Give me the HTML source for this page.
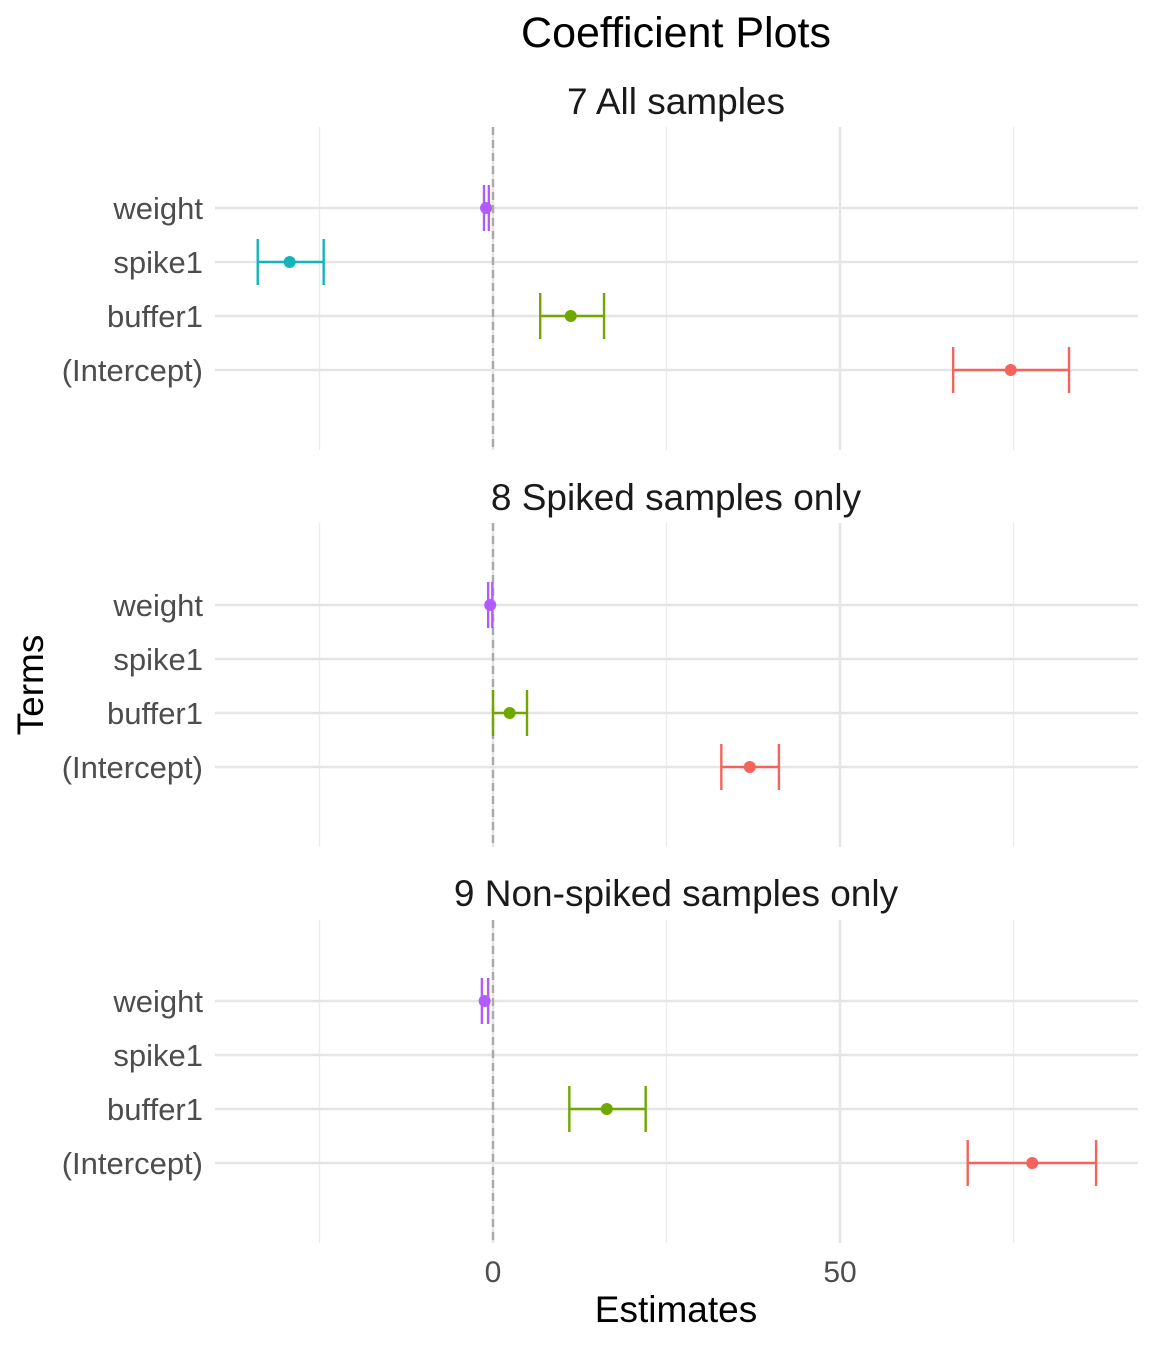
<!DOCTYPE html>
<html><head><meta charset="utf-8">
<style>
html,body{margin:0;padding:0;background:#fff;}
svg text{font-family:"Liberation Sans",Arial,sans-serif;}
</style></head>
<body>
<svg id="chart" width="1152" height="1344" xmlns="http://www.w3.org/2000/svg"></svg>
<script>
const terms = ["(Intercept)","buffer1","spike1","weight"];
const panelTitles = ["7 All samples","8 Spiked samples only","9 Non-spiked samples only"];
const colors = ["#F5645C","#6FA800","#13B5BA","#B15BFF"];
const est1 = [74.6, 11.2, -29.3, -1.0];
const lo1  = [66.3, 6.8, -33.9, -1.3];
const hi1  = [83.0, 16.0, -24.4, -0.6];
const est2 = [37.0, 2.4, null, -0.4];
const lo2  = [32.9, 0.0, null, -0.7];
const hi2  = [41.2, 4.9, null, -0.1];
const est3 = [77.7, 16.4, null, -1.2];
const lo3  = [68.4, 11.0, null, -1.6];
const hi3  = [86.9, 22.0, null, -0.7];
const xTicks = [0, 50];
const xMinor = [-25, 25, 75];

const svg = document.getElementById('chart');
const NS = "http://www.w3.org/2000/svg";
function el(tag, attrs, parent){const e=document.createElementNS(NS,tag);for(const k in attrs)e.setAttribute(k,attrs[k]);(parent||svg).appendChild(e);return e;}
const X = v => 493 + v*6.94;
const plotL = 215, plotR = 1138;
const panels = [
  {top:127,bot:450,rows:[370,316,262,208],titleY:114,est:est1,lo:lo1,hi:hi1},
  {top:523,bot:847,rows:[767,713,659,605],titleY:510,est:est2,lo:lo2,hi:hi2},
  {top:920,bot:1243,rows:[1163,1109,1055,1001],titleY:906,est:est3,lo:lo3,hi:hi3}
];

let t = el('text',{x:676,y:47,'font-size':43,'text-anchor':'middle',fill:'#000'});
t.textContent="Coefficient Plots";



panels.forEach((p,pi)=>{
  const g = el('g',{});
  
  
  const tt = el('text',{x:676,y:p.titleY,'font-size':37,'text-anchor':'middle',fill:'#1a1a1a'},g);
  tt.textContent = panelTitles[pi];
  
  
  xMinor.forEach(v=>{ el('line',{x1:X(v),x2:X(v),y1:p.top,y2:p.bot,stroke:'#ebebeb','stroke-width':1.3},g); });
  xTicks.forEach(v=>{ el('line',{x1:X(v),x2:X(v),y1:p.top,y2:p.bot,stroke:'#e5e5e5','stroke-width':2.5},g); });
  terms.forEach((term,i)=>{
    const y=p.rows[i];
    el('line',{x1:plotL,x2:plotR,y1:y,y2:y,stroke:'#e5e5e5','stroke-width':2.5},g);
    const lb = el('text',{x:203,y:y+11,'font-size':31,'text-anchor':'end',fill:'#4d4d4d'},g);
    lb.textContent=term;
    
    
  });
  el('line',{x1:X(0),x2:X(0),y1:p.top,y2:p.bot,stroke:'#aaaaaa','stroke-width':2.4,'stroke-dasharray':'8,5'},g);
  terms.forEach((term,i)=>{
    if(p.est[i]===null) return;
    const y=p.rows[i], c=colors[i];
    const eb = el('g',{},g);
    
    
    el('line',{x1:X(p.lo[i]),x2:X(p.hi[i]),y1:y,y2:y,stroke:c,'stroke-width':2.4},eb);
    el('line',{x1:X(p.lo[i]),x2:X(p.lo[i]),y1:y-23,y2:y+23,stroke:c,'stroke-width':2.4},eb);
    el('line',{x1:X(p.hi[i]),x2:X(p.hi[i]),y1:y-23,y2:y+23,stroke:c,'stroke-width':2.4},eb);
    const pt = el('circle',{cx:X(p.est[i]),cy:y,r:6,fill:c},eb);
    
    
  });
});

xTicks.forEach(v=>{
  const tl = el('text',{x:X(v),y:1282,'font-size':30,'text-anchor':'middle',fill:'#4d4d4d'});
  tl.textContent=String(v);
  
  
});
const xt = el('text',{x:676,y:1322,'font-size':37,'text-anchor':'middle',fill:'#000'});
xt.textContent="Estimates";


const yt = el('text',{x:0,y:0,'font-size':37,'text-anchor':'middle',fill:'#000',transform:'translate(43,685) rotate(-90)'});
yt.textContent="Terms";


</script>
</body></html>
